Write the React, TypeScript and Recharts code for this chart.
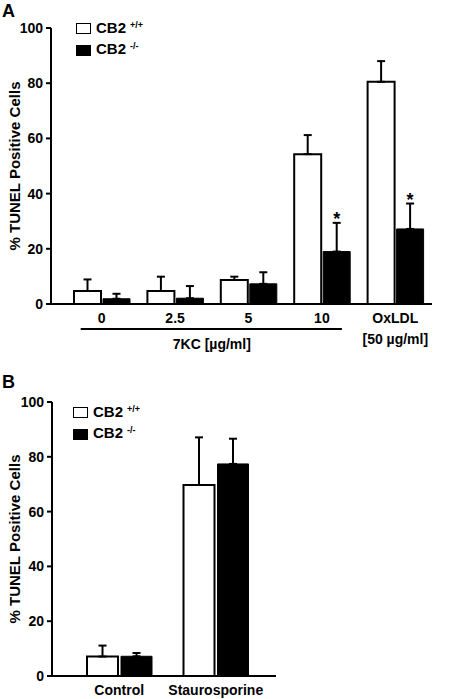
import React from "react";
import { BarChart, Bar, XAxis, YAxis, ErrorBar, LabelList, Legend } from "recharts";

const FONT = '"Liberation Sans", Arial, Helvetica, sans-serif';

// Panel A: 7KC dose series + OxLDL
const categoriesA = ["0", "2.5", "5", "10", "OxLDL"];
const wtMeanA = [4.7, 4.7, 8.7, 54.3, 80.5];
const wtErrA = [4.2, 5.2, 1.2, 6.9, 7.5];
const koMeanA = [1.9, 2.1, 7.3, 19.0, 27.2];
const koErrA = [1.8, 4.4, 4.2, 10.4, 9.2];
const koSigA = [false, false, false, true, true];

// Panel B: staurosporine
const categoriesB = ["Control", "Staurosporine"];
const wtMeanB = [7.1, 69.7];
const wtErrB = [4.0, 17.4];
const koMeanB = [7.2, 77.4];
const koErrB = [1.2, 9.2];

const yTicks = [0, 20, 40, 60, 80, 100];
const seriesNames = ["CB2 +/+", "CB2 -/-"];

function buildRows(cats: string[], wm: number[], we: number[], km: number[], ke: number[]) {
  return cats.map((c, i) => ({
    cat: c,
    wt: wm[i],
    wtErr: [0, we[i]],
    ko: km[i],
    koErr: [0, ke[i]],
    koE: ke[i],
  }));
}

const dataA = buildRows(categoriesA, wtMeanA, wtErrA, koMeanA, koErrA);
const dataB = buildRows(categoriesB, wtMeanB, wtErrB, koMeanB, koErrB);

const textStyle = { fontFamily: FONT, fontWeight: 700 };

// eslint-disable-next-line @typescript-eslint/no-explicit-any
const renderLegend = (props: any) => {
  const { payload } = props;
  return (
    <div style={{ ...textStyle, color: "#000" }}>
      {/* eslint-disable-next-line @typescript-eslint/no-explicit-any */}
      {(payload || []).map((entry: any, i: number) => {
        const [base, sup] = String(entry.value).split(" ");
        return (
          <div key={i} style={{ display: "flex", alignItems: "center", height: 21.5 }}>
            <span
              style={{
                display: "inline-block",
                width: 15,
                height: 11,
                boxSizing: "border-box",
                border: "1.5px solid #000",
                background: entry.color,
              }}
            />
            <span style={{ marginLeft: 5, fontSize: 15, lineHeight: "15px" }}>
              {base}
              <span style={{ fontSize: 9, marginLeft: 4, position: "relative", top: -5 }}>{sup}</span>
            </span>
          </div>
        );
      })}
    </div>
  );
};

// y-axis title, centred on the plot area
const makeYLabel = (cx: number) =>
  // eslint-disable-next-line @typescript-eslint/no-explicit-any
  (props: any) => {
    const vb = props.viewBox;
    const cy = vb.y + vb.height / 2;
    return (
      <text
        x={cx}
        y={cy}
        transform={`rotate(-90 ${cx} ${cy})`}
        textAnchor="middle"
        dominantBaseline="central"
        fontSize={15}
        style={textStyle}
        fill="#000"
      >
        % TUNEL Positive Cells
      </text>
    );
  };

// eslint-disable-next-line @typescript-eslint/no-explicit-any
const renderStar = (props: any) => {
  const vb = props.viewBox ?? props;
  const idx = props.index;
  if (!koSigA[idx]) return null;
  const v = Number(props.value);
  const pxPerUnit = v ? vb.height / v : 0;
  const errTop = vb.y - koErrA[idx] * pxPerUnit;
  return (
    <text x={vb.x + vb.width / 2} y={errTop + 2} textAnchor="middle" fontSize={18} style={textStyle} fill="#000">
      *
    </text>
  );
};

// eslint-disable-next-line @typescript-eslint/no-explicit-any
const TickA = (props: any) => {
  const { x, y, payload, index } = props;
  const half = payload?.offset ? payload.offset : 36.7;
  const isOx = payload.value === "OxLDL";
  return (
    <g>
      <text x={x} y={y + 19} textAnchor="middle" fontSize={14} style={textStyle} fill="#000">
        {payload.value}
      </text>
      {isOx && (
        <text x={x} y={y + 40} textAnchor="middle" fontSize={14} style={textStyle} fill="#000">
          [50 µg/ml]
        </text>
      )}
      {index === 0 && (
        <g>
          <line x1={x - 21} x2={x + 6 * half + 20} y1={y + 25} y2={y + 25} stroke="#000" strokeWidth={2} />
          <text x={x + 3 * half} y={y + 45} textAnchor="middle" fontSize={14} style={textStyle} fill="#000">
            7KC [µg/ml]
          </text>
        </g>
      )}
    </g>
  );
};

// eslint-disable-next-line @typescript-eslint/no-explicit-any
const TickB = (props: any) => {
  const { x, y, payload } = props;
  return (
    <text x={x} y={y + 19} textAnchor="middle" fontSize={14} style={textStyle} fill="#000">
      {payload.value}
    </text>
  );
};

const axisLine = { stroke: "#000", strokeWidth: 2 };
const yTick = { fill: "#000", fontSize: 14, fontWeight: 700, fontFamily: FONT };

export default function App() {
  return (
    <div style={{ position: "absolute", left: 0, top: 0, width: 449, height: 699, background: "#fff" }}>
      <div style={{ position: "absolute", left: 2, top: 2, fontSize: 18, lineHeight: "18px", ...textStyle }}>A</div>
      <div style={{ position: "absolute", left: 2, top: 373, fontSize: 18, lineHeight: "18px", ...textStyle }}>B</div>

      <div style={{ position: "absolute", left: 0, top: 0 }}>
        <BarChart
          width={449}
          height={360}
          data={dataA}
          margin={{ top: 28, right: 17, bottom: 0, left: 0 }}
          barSize={27}
          barGap={2}
        >
          <XAxis
            dataKey="cat"
            height={56}
            axisLine={axisLine}
            tickLine={false}
            tickSize={0}
            tickMargin={0}
            padding={{ left: 14, right: 0 }}
            tick={<TickA />}
            interval={0}
          />
          <YAxis
            width={51}
            domain={[0, 100]}
            ticks={yTicks}
            axisLine={axisLine}
            tickLine={{ stroke: "#000", strokeWidth: 2 }}
            tickSize={5}
            tickMargin={3}
            tick={yTick}
            label={{ content: makeYLabel(14) }}
          />
          <Legend
            layout="vertical"
            align="center"
            verticalAlign="middle"
            wrapperStyle={{ top: 17.75, left: 76, width: 120, height: 45 }}
            content={renderLegend}
          />
          <Bar dataKey="wt" name={seriesNames[0]} fill="#fff" stroke="#000" strokeWidth={2} isAnimationActive={false}>
            <ErrorBar dataKey="wtErr" direction="y" width={4} stroke="#000" strokeWidth={2} />
          </Bar>
          <Bar dataKey="ko" name={seriesNames[1]} fill="#000" stroke="#000" strokeWidth={1} isAnimationActive={false}>
            <ErrorBar dataKey="koErr" direction="y" width={4} stroke="#000" strokeWidth={2} />
            <LabelList dataKey="ko" content={renderStar} />
          </Bar>
        </BarChart>
      </div>

      <div style={{ position: "absolute", left: 0, top: 360 }}>
        <BarChart
          width={449}
          height={339}
          data={dataB}
          margin={{ top: 42, right: 173, bottom: 0, left: 0 }}
          barSize={31}
          barGap={3}
        >
          <XAxis
            dataKey="cat"
            height={23}
            axisLine={axisLine}
            tickLine={false}
            tickSize={0}
            tickMargin={0}
            padding={{ left: 19, right: 12 }}
            tick={<TickB />}
            interval={0}
          />
          <YAxis
            width={52}
            domain={[0, 100]}
            ticks={yTicks}
            axisLine={axisLine}
            tickLine={{ stroke: "#000", strokeWidth: 2 }}
            tickSize={5}
            tickMargin={3}
            tick={yTick}
            label={{ content: makeYLabel(14) }}
          />
          <Legend
            layout="vertical"
            align="center"
            verticalAlign="middle"
            wrapperStyle={{ top: 41.75, left: 73, width: 120, height: 45 }}
            content={renderLegend}
          />
          <Bar dataKey="wt" name={seriesNames[0]} fill="#fff" stroke="#000" strokeWidth={2} isAnimationActive={false}>
            <ErrorBar dataKey="wtErr" direction="y" width={4} stroke="#000" strokeWidth={2} />
          </Bar>
          <Bar dataKey="ko" name={seriesNames[1]} fill="#000" stroke="#000" strokeWidth={1} isAnimationActive={false}>
            <ErrorBar dataKey="koErr" direction="y" width={4} stroke="#000" strokeWidth={2} />
          </Bar>
        </BarChart>
      </div>
    </div>
  );
}
